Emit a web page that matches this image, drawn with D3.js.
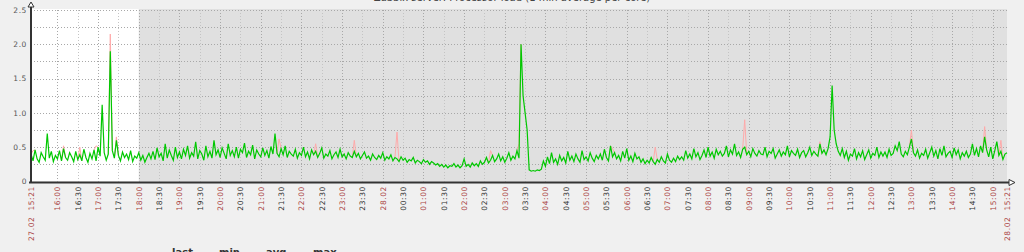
<!DOCTYPE html>
<html>
<head>
<meta charset="utf-8">
<script src="https://cdn.jsdelivr.net/npm/d3@7"></script>
<style>
	html, body { margin: 0; padding: 0; background: #f0f0f0; }
	svg { display: block; font-family: "DejaVu Sans", sans-serif; }
</style>
</head>
<body>
<svg id="chart" width="1024" height="252"></svg>
<script>
'use strict';

// period shown: 27.02 15:21 .. 28.02 15:21, one sample each 3 minutes
var periodStart = new Date(2015, 1, 27, 15, 21);
var periodEnd = new Date(2015, 1, 28, 15, 21);
var stepMinutes = 3;
var workEnd = new Date(2015, 1, 27, 18, 0);

var titleText = 'Zabbix server: Processor load (1 min average per core)';
var legendHeaders = ['last', 'min', 'avg', 'max'];
var yTicks = [0, 0.5, 1.0, 1.5, 2.0, 2.5];

// avg values, one row per hour
var avgValues = [
	0.40, 0.30, 0.46, 0.33, 0.28, 0.42, 0.36, 0.31, 0.70, 0.34, 0.44, 0.29, 0.38, 0.33, 0.45, 0.30, 0.48, 0.35, 0.31, 0.42,
	0.36, 0.29, 0.44, 0.32, 0.39, 0.30, 0.47, 0.35, 0.28, 0.41, 0.33, 0.46, 0.30, 0.50, 0.37, 1.12, 0.42, 0.31, 0.40, 1.90,
	0.45, 0.34, 0.60, 0.38, 0.30, 0.43, 0.35, 0.40, 0.32, 0.45, 0.29, 0.37, 0.34, 0.42, 0.31, 0.38, 0.28, 0.35, 0.41, 0.33,
	0.44, 0.32, 0.49, 0.36, 0.41, 0.30, 0.55, 0.34, 0.46, 0.38, 0.31, 0.50, 0.35, 0.43, 0.33, 0.47, 0.38, 0.52, 0.34, 0.42,
	0.37, 0.58, 0.33, 0.45, 0.40, 0.31, 0.52, 0.36, 0.44, 0.34, 0.60, 0.39, 0.46, 0.35, 0.49, 0.41, 0.33, 0.55, 0.38, 0.45,
	0.36, 0.50, 0.34, 0.47, 0.42, 0.56, 0.35, 0.44, 0.39, 0.53, 0.33, 0.46, 0.40, 0.36, 0.49, 0.38, 0.45, 0.34, 0.51, 0.40,
	0.70, 0.41, 0.36, 0.48, 0.39, 0.52, 0.35, 0.44, 0.40, 0.37, 0.47, 0.34, 0.42, 0.38, 0.50, 0.36, 0.43, 0.33, 0.46, 0.39,
	0.44, 0.35, 0.41, 0.49, 0.34, 0.40, 0.37, 0.45, 0.33, 0.39, 0.43, 0.35, 0.47, 0.36, 0.40, 0.33, 0.42, 0.37, 0.35, 0.44,
	0.36, 0.41, 0.33, 0.38, 0.43, 0.34, 0.37, 0.31, 0.40, 0.35, 0.32, 0.38, 0.34, 0.42, 0.31, 0.36, 0.33, 0.39, 0.30, 0.35,
	0.33, 0.29, 0.36, 0.31, 0.34, 0.28, 0.32, 0.30, 0.35, 0.27, 0.31, 0.29, 0.26, 0.32, 0.28, 0.30, 0.25, 0.29, 0.27, 0.24,
	0.26, 0.22, 0.25, 0.21, 0.24, 0.20, 0.23, 0.22, 0.26, 0.21, 0.24, 0.20, 0.23, 0.33, 0.22, 0.25, 0.21, 0.27, 0.23, 0.26,
	0.22, 0.30, 0.25, 0.28, 0.35, 0.27, 0.31, 0.38, 0.29, 0.33, 0.40, 0.30, 0.36, 0.28, 0.34, 0.42, 0.31, 0.37, 0.33, 0.45,
	0.34, 2.00, 1.25, 1.00, 0.75, 0.17, 0.15, 0.16, 0.15, 0.17, 0.16, 0.18, 0.30, 0.22, 0.36, 0.26, 0.42, 0.28, 0.33, 0.25,
	0.38, 0.30, 0.35, 0.27, 0.44, 0.31, 0.37, 0.29, 0.40, 0.33, 0.28, 0.45, 0.32, 0.36, 0.30, 0.42, 0.34, 0.29, 0.38, 0.33,
	0.40, 0.31, 0.47, 0.35, 0.30, 0.52, 0.36, 0.42, 0.33, 0.38, 0.30, 0.44, 0.34, 0.48, 0.31, 0.37, 0.29, 0.41, 0.33, 0.36,
	0.28, 0.33, 0.26, 0.31, 0.27, 0.35, 0.29, 0.25, 0.32, 0.28, 0.36, 0.30, 0.27, 0.40, 0.31, 0.28, 0.34, 0.29, 0.37, 0.32,
	0.36, 0.31, 0.45, 0.34, 0.40, 0.33, 0.48, 0.36, 0.42, 0.32, 0.38, 0.46, 0.35, 0.50, 0.37, 0.43, 0.34, 0.47, 0.39, 0.44,
	0.37, 0.41, 0.52, 0.36, 0.46, 0.40, 0.55, 0.38, 0.43, 0.35, 0.47, 0.50, 0.39, 0.44, 0.36, 0.48, 0.41, 0.37, 0.45, 0.40,
	0.39, 0.50, 0.36, 0.44, 0.41, 0.48, 0.34, 0.40, 0.46, 0.37, 0.43, 0.39, 0.52, 0.36, 0.45, 0.41, 0.38, 0.47, 0.35, 0.42,
	0.45, 0.36, 0.42, 0.50, 0.38, 0.44, 0.40, 0.37, 0.55, 0.41, 0.46, 0.39, 0.48, 0.65, 1.40, 0.75, 0.55, 0.44, 0.38, 0.48,
	0.35, 0.44, 0.31, 0.40, 0.37, 0.48, 0.33, 0.42, 0.36, 0.45, 0.32, 0.39, 0.46, 0.34, 0.41, 0.38, 0.50, 0.35, 0.43, 0.37,
	0.43, 0.35, 0.47, 0.38, 0.41, 0.52, 0.45, 0.58, 0.40, 0.36, 0.44, 0.39, 0.50, 0.62, 0.42, 0.37, 0.46, 0.34, 0.41, 0.38,
	0.47, 0.34, 0.42, 0.50, 0.37, 0.45, 0.33, 0.48, 0.38, 0.52, 0.36, 0.41, 0.44, 0.35, 0.49, 0.39, 0.46, 0.33, 0.42, 0.37,
	0.44, 0.35, 0.40, 0.55, 0.38, 0.48, 0.36, 0.52, 0.42, 0.65, 0.46, 0.36, 0.50, 0.33, 0.45, 0.58, 0.38, 0.44, 0.32, 0.40,
	0.42
];

// samples where max rises above avg: [sample index, max value]
var maxPeaks = [
	[1, 0.45], [16, 0.52], [24, 0.50], [32, 0.52], [39, 2.15], [42, 0.65],
	[122, 0.62], [140, 0.55], [159, 0.60], [180, 0.72], [226, 0.45], [240, 0.55],
	[286, 0.48], [307, 0.50], [351, 0.90], [388, 0.58], [433, 0.75], [469, 0.80],
	[477, 0.60]
];

var opt = {
	left: 31,
	right: 1007,
	top: 10,
	bottom: 181.5,
	color: {
		avg: '#00c800',
		max: '#ffaaaa',
		mainLabel: '#aa4444',
		label: '#333333',
		axis: '#333333',
		gridMain: '#a8a8a8',
		grid: '#c4c4c4',
		noWork: '#e0e0e0',
		work: '#ffffff'
	}
};

var svg = d3.select('#chart');

var x = d3.scaleTime()
	.domain([periodStart, periodEnd])
	.range([opt.left, opt.right]);

var y = d3.scaleLinear()
	.domain([0, 2.5])
	.range([opt.bottom, opt.top]);

function sampleTime(i) {
	return d3.timeMinute.offset(periodStart, i * stepMinutes);
}

// plot background: work time white, rest grey
svg.append('rect')
	.attr('x', opt.left)
	.attr('y', opt.top - 1)
	.attr('width', opt.right - opt.left)
	.attr('height', opt.bottom - opt.top + 1)
	.attr('fill', opt.color.noWork);

svg.append('rect')
	.attr('x', opt.left)
	.attr('y', opt.top - 1)
	.attr('width', x(workEnd) - opt.left)
	.attr('height', opt.bottom - opt.top + 1)
	.attr('fill', opt.color.work);

// horizontal grid every 0.25
var hLines = d3.range(1, 11).map(function(k) { return k * 0.25; });
svg.append('g')
	.selectAll('line')
	.data(hLines)
	.enter()
	.append('line')
	.attr('x1', opt.left)
	.attr('x2', opt.right)
	.attr('y1', function(d) { return Math.round(y(d)) + 0.5; })
	.attr('y2', function(d) { return Math.round(y(d)) + 0.5; })
	.attr('stroke', opt.color.gridMain)
	.attr('stroke-dasharray', '1,2');

// vertical grid every 30 min, starting at 16:00
var halfHours = d3.timeMinute.every(30).range(new Date(2015, 1, 27, 16, 0), periodEnd);
svg.append('g')
	.selectAll('line')
	.data(halfHours)
	.enter()
	.append('line')
	.attr('x1', function(d) { return Math.round(x(d)) + 0.5; })
	.attr('x2', function(d) { return Math.round(x(d)) + 0.5; })
	.attr('y1', opt.top)
	.attr('y2', opt.bottom)
	.attr('stroke', function(d) {
		return d.getMinutes() === 0 ? opt.color.gridMain : opt.color.grid;
	})
	.attr('stroke-dasharray', '1,2');

// max peaks, drawn under the avg line
svg.append('g')
	.selectAll('path')
	.data(maxPeaks)
	.enter()
	.append('path')
	.attr('d', function(d) {
		var i = d[0];
		return 'M' + x(sampleTime(i - 1)) + ',' + y(avgValues[i - 1])
			+ 'L' + x(sampleTime(i)) + ',' + y(d[1])
			+ 'L' + x(sampleTime(i + 1)) + ',' + y(avgValues[i + 1]);
	})
	.attr('fill', 'none')
	.attr('stroke', opt.color.max)
	.attr('stroke-width', 1);

// avg line
svg.append('path')
	.attr('d', d3.line()
		.x(function(d, i) { return x(sampleTime(i)); })
		.y(function(d) { return y(d); })(avgValues))
	.attr('fill', 'none')
	.attr('stroke', opt.color.avg)
	.attr('stroke-width', 1.2);

// axes with arrows
var axisG = svg.append('g').attr('stroke', opt.color.axis).attr('fill', 'none');
axisG.append('line')
	.attr('x1', opt.left).attr('x2', opt.left)
	.attr('y1', opt.bottom + 1).attr('y2', 3)
	.attr('stroke-width', 2);
axisG.append('path')
	.attr('d', 'M' + (opt.left - 3) + ',7 L' + opt.left + ',2 L' + (opt.left + 3) + ',7 Z')
	.attr('fill', '#ffffff')
	.attr('stroke-width', 1);
axisG.append('line')
	.attr('x1', opt.left - 2).attr('x2', 1013)
	.attr('y1', opt.bottom + 1).attr('y2', opt.bottom + 1)
	.attr('stroke-width', 2);
axisG.append('path')
	.attr('d', 'M1009,' + (opt.bottom - 2) + ' L1015,' + (opt.bottom + 1) + ' L1009,' + (opt.bottom + 4) + ' Z')
	.attr('fill', '#ffffff')
	.attr('stroke-width', 1);

// y labels
svg.append('g')
	.selectAll('text')
	.data(yTicks)
	.enter()
	.append('text')
	.attr('x', 27)
	.attr('y', function(d) { return y(d); })
	.attr('dy', '0.35em')
	.attr('text-anchor', 'end')
	.attr('font-size', '7.5px')
	.attr('letter-spacing', '0.6px')
	.attr('fill', '#555')
	.text(function(d) { return d === 0 ? '0' : d3.format('.1f')(d); });

// x labels, rotated
var fmtDate = d3.timeFormat('%d.%m');
var fmtTime = d3.timeFormat('%H:%M');
var xLabels = [{ t: periodStart, text: fmtDate(periodStart) + '  ' + fmtTime(periodStart), main: true }]
	.concat(halfHours.map(function(d) {
		var midnight = d.getHours() === 0 && d.getMinutes() === 0;
		return {
			t: d,
			text: midnight ? fmtDate(d) : fmtTime(d),
			main: d.getMinutes() === 0
		};
	}))
	.concat([{ t: periodEnd, text: fmtDate(periodEnd) + '  ' + fmtTime(periodEnd), main: true }]);

svg.append('g')
	.selectAll('text')
	.data(xLabels)
	.enter()
	.append('text')
	.attr('transform', function(d) {
		return 'translate(' + (x(d.t) + 3) + ',186) rotate(-90)';
	})
	.attr('text-anchor', 'end')
	.attr('font-size', '7.5px')
	.attr('letter-spacing', '0.6px')
	.style('white-space', 'pre')
	.attr('fill', function(d) { return d.main ? opt.color.mainLabel : opt.color.label; })
	.text(function(d) { return d.text; });

// title, mostly cut off at the top
svg.append('text')
	.attr('x', 512)
	.attr('y', 1)
	.attr('text-anchor', 'middle')
	.attr('font-size', '10px')
	.attr('fill', '#444')
	.text(titleText);

// legend header, cut off at the bottom
svg.append('g')
	.selectAll('text')
	.data(legendHeaders)
	.enter()
	.append('text')
	.attr('x', function(d, i) { return 172 + i * 47; })
	.attr('y', 256)
	.attr('font-size', '10px')
	.attr('font-weight', 'bold')
	.attr('fill', '#333')
	.text(function(d) { return d; });
</script>
</body>
</html>
